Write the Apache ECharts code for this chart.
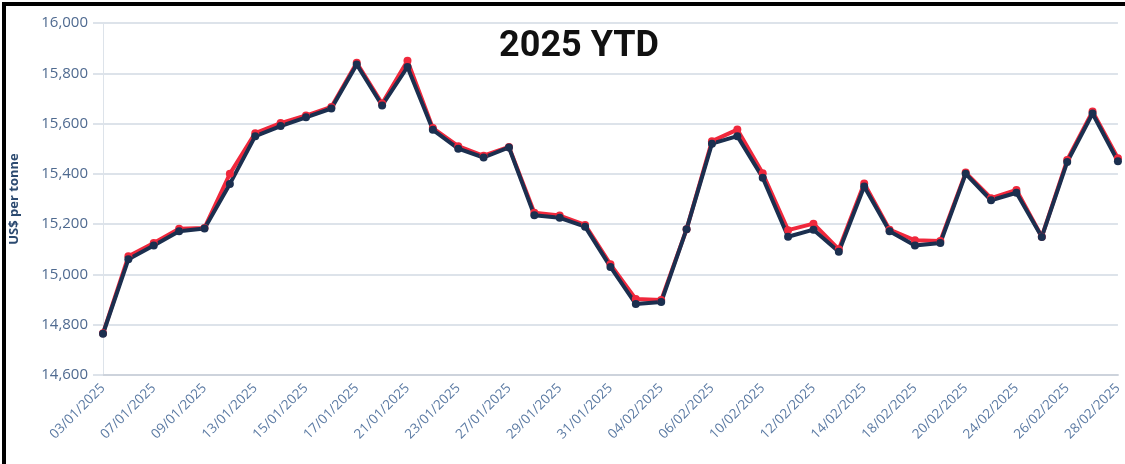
<!DOCTYPE html>
<html>
<head>
<meta charset="utf-8">
<title>2025 YTD</title>
<script src="https://cdn.jsdelivr.net/npm/echarts@6/dist/echarts.min.js"></script>
<style>
  html, body { margin: 0; padding: 0; background: #fff; }
  #chart { width: 1125px; height: 464px; }
  .frame {
    position: absolute; left: 2px; top: 2px; width: 1200px; height: 600px;
    border-left: 4px solid #000; border-top: 4px solid #000;
    pointer-events: none;
  }
</style>
</head>
<body>
<div id="chart"></div>
<div class="frame"></div>
<script>
// trading days, Jan-Feb 2025
const dates = [
  '03/01/2025', '06/01/2025', '07/01/2025', '08/01/2025', '09/01/2025', '10/01/2025',
  '13/01/2025', '14/01/2025', '15/01/2025', '16/01/2025', '17/01/2025',
  '20/01/2025', '21/01/2025', '22/01/2025', '23/01/2025', '24/01/2025',
  '27/01/2025', '28/01/2025', '29/01/2025', '30/01/2025', '31/01/2025',
  '03/02/2025', '04/02/2025', '05/02/2025', '06/02/2025', '07/02/2025',
  '10/02/2025', '11/02/2025', '12/02/2025', '13/02/2025', '14/02/2025',
  '17/02/2025', '18/02/2025', '19/02/2025', '20/02/2025', '21/02/2025',
  '24/02/2025', '25/02/2025', '26/02/2025', '27/02/2025', '28/02/2025'
]

// red line (drawn underneath)
const redValues = [
  14766, 15072, 15125, 15182, 15185, 15400, 15562, 15602, 15632, 15666, 15842,
  15680, 15850, 15582, 15510, 15472, 15507, 15245, 15234, 15197, 15040,
  14902, 14898, 15180, 15530, 15576, 15402, 15176, 15202, 15100, 15362,
  15178, 15136, 15133, 15405, 15303, 15336, 15150, 15455, 15648, 15462
]

// navy line (on top)
const navyValues = [
  14764, 15060, 15115, 15172, 15183, 15360, 15550, 15590, 15625, 15660, 15835,
  15672, 15825, 15575, 15500, 15465, 15505, 15235, 15225, 15190, 15030,
  14882, 14890, 15180, 15520, 15550, 15385, 15150, 15178, 15090, 15350,
  15172, 15115, 15125, 15400, 15295, 15325, 15149, 15447, 15640, 15450
]

const yMin = 14600
const yMax = 16000
const yStep = 200

const chart = echarts.init(document.getElementById('chart'))

const option = {
  backgroundColor: '#fff',
  animation: false,
  title: {
    text: '2025 YTD',
    left: 574,
    top: 24,
    textAlign: 'center',
    textStyle: {
      fontFamily: 'Roboto',
      fontWeight: 'bold',
      fontSize: 36,
      color: '#111'
    }
  },
  grid: {left: 103, right: 4, top: 23, bottom: 89},
  xAxis: {
    type: 'category',
    boundaryGap: false,
    data: dates,
    axisLine: {lineStyle: {color: '#cdd3dc', width: 2}},
    axisTick: {show: false},
    axisLabel: {
      interval: 1,
      rotate: 45,
      margin: 11,
      fontFamily: 'Open Sans',
      fontSize: 13.5,
      color: '#5b7aa3'
    },
    splitLine: {show: false}
  },
  yAxis: {
    type: 'value',
    min: yMin,
    max: yMax,
    interval: yStep,
    name: 'US$ per tonne',
    nameLocation: 'middle',
    nameGap: 82,
    nameTextStyle: {
      fontFamily: 'Open Sans',
      fontWeight: 'bold',
      fontSize: 13,
      color: '#2c4a70'
    },
    axisLine: {show: true, lineStyle: {color: '#dde3ea', width: 1}},
    axisTick: {show: true, length: 10, lineStyle: {color: '#dde3ea', width: 2}},
    axisLabel: {
      margin: 15,
      fontFamily: 'Open Sans',
      fontSize: 15,
      color: '#4f6a90',
      formatter: v => v.toLocaleString('en-US')
    },
    splitLine: {lineStyle: {color: '#dde3ea', width: 2}}
  },
  series: [
    {
      name: 'Red',
      type: 'line',
      data: redValues,
      symbol: 'circle',
      symbolSize: 8,
      lineStyle: {color: '#f0283c', width: 4},
      itemStyle: {color: '#f0283c'}
    },
    {
      name: 'Navy',
      type: 'line',
      data: navyValues,
      symbol: 'circle',
      symbolSize: 8,
      lineStyle: {color: '#1b2f4f', width: 4},
      itemStyle: {color: '#1b2f4f'}
    }
  ]
}

chart.setOption(option)
</script>
</body>
</html>
